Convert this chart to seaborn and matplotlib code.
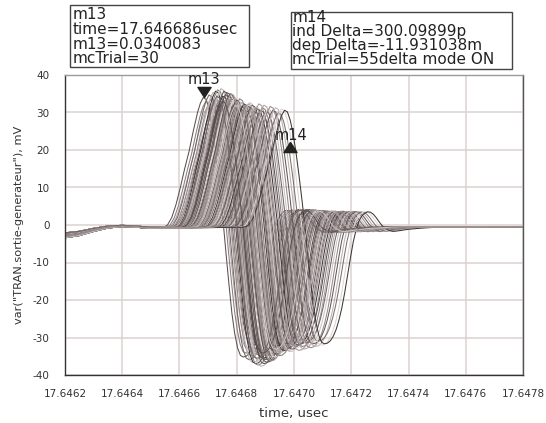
import numpy as np
import pandas as pd
import seaborn as sns
import matplotlib
matplotlib.use("Agg")
import matplotlib.pyplot as plt
import matplotlib.patches as mpatches
from matplotlib.ticker import FixedLocator, FuncFormatter

# ---------------- data ----------------
# representative pulse shape: time relative to its positive peak (ps) and value (mV)
pulse_dt_ps = [-150, -135, -125, -110, -95, -80, -65, -50, -35, -20, -10, 0,
               10, 20, 30, 40, 50, 60, 70, 80, 90, 100, 110, 120, 130, 140, 150,
               160, 170, 180, 190, 200, 210, 220, 230, 240, 250, 260, 270, 280,
               290, 300, 310, 320, 330, 340, 350, 365, 380, 400, 430, 480, 550]
pulse_mv = [-0.7, -0.5, 0.0, 2.0, 5.5, 10.0, 15.0, 19.5, 25.0, 30.0, 32.5, 34.0,
            33.5, 31.0, 27.0, 21.5, 15.0, 8.0, 0.5, -8.0, -16.0, -23.5, -29.0, -32.8,
            -34.8, -35.2, -35.0, -34.3, -33.0, -31.0, -28.2, -24.6, -20.1, -15.0,
            -9.8, -5.0, -1.4, 1.2, 2.7, 3.5, 3.9, 3.8, 3.2, 2.2, 1.0, -0.1, -0.9,
            -1.6, -1.9, -1.7, -1.3, -0.9, -0.6]

# common leading baseline (usec, mV) - a few distinct variants
lead_time = [17.64620, 17.64625, 17.64630, 17.64635, 17.64640, 17.64645, 17.64650]
lead_mv_sets = [
    [-3.4, -2.8, -1.7, -0.8, -0.4, -0.6, -0.9],
    [-2.9, -2.4, -1.4, -0.6, -0.3, -0.5, -0.8],
    [-2.5, -2.0, -1.1, -0.4, -0.2, -0.4, -0.7],
    [-2.1, -1.7, -0.9, -0.3, -0.1, -0.3, -0.6],
]
tail_time = 17.6478
tail_mv = -0.45

# Monte-Carlo trials: peak time (ps after 17.6466 usec) and amplitude factor
ref_time = 17.6466
peak_ps = [83, 92, 98, 103, 107, 110, 114, 117, 120, 123, 126, 128, 131, 133, 135,
           137, 139, 141, 143, 145, 147, 149, 151, 153, 155, 156, 158, 160, 162, 163,
           165, 167, 169, 170, 172, 174, 176, 177, 179, 181, 183, 185, 187, 189, 191,
           193, 195, 197, 199, 201, 203, 206, 208, 211, 213, 216, 219, 222, 225, 228,
           231, 234, 238, 241, 245, 249, 253, 257, 262, 267, 272, 277, 283, 289, 295,
           302, 309, 317, 326, 335, 345, 356, 367, 180, 150, 210, 240, 130, 195, 265]
peak_gain = [1.00, 0.97, 0.93, 1.02, 0.95, 0.99, 0.91, 1.04, 0.96, 0.93, 1.05, 0.98,
             0.94, 1.06, 0.97, 0.92, 1.03, 0.99, 0.95, 1.07, 0.96, 0.93, 1.01, 0.98,
             1.05, 0.94, 0.97, 1.02, 0.95, 0.99, 1.04, 0.92, 0.96, 1.00, 0.94, 0.98,
             1.03, 0.95, 0.91, 0.99, 0.96, 1.01, 0.93, 0.97, 0.94, 1.00, 0.92, 0.96,
             0.98, 0.93, 0.95, 0.90, 0.97, 0.94, 0.91, 0.96, 0.93, 0.89, 0.95, 0.92,
             0.90, 0.94, 0.91, 0.93, 0.96, 0.90, 0.94, 0.92, 0.89, 0.93, 0.91, 0.95,
             0.90, 0.92, 0.94, 0.89, 0.91, 0.93, 0.90, 0.92, 0.88, 0.91, 0.90, 1.03,
             0.97, 0.99, 0.95, 1.01, 0.94, 0.92]
trace_colors = ["#5a5050", "#8a7e7d", "#aea5a4", "#706564", "#cbc3c2", "#958988",
                "#625857", "#bbb2b1", "#7d7170", "#dcd5d4", "#3f3737", "#a09695"]

x_ticks = [17.6462, 17.6464, 17.6466, 17.6468, 17.6470, 17.6472, 17.6474, 17.6476, 17.6478]
y_ticks = [-40, -30, -20, -10, 0, 10, 20, 30, 40]

m13_time, m13_mv = 17.646686, 34.0083
m14_time, m14_mv = 17.646686 + 300.09899e-6, 34.0083 - 11.931038

box1_lines = ["m13", "time=17.646686usec", "m13=0.0340083", "mcTrial=30"]
box2_lines = ["m14", "ind Delta=300.09899p", "dep Delta=-11.931038m", "mcTrial=55delta mode ON"]

# ---------------- build long table ----------------
rows = []
for i, (p, g) in enumerate(zip(peak_ps, peak_gain)):
    lead_mv = lead_mv_sets[i % len(lead_mv_sets)]
    for t, v in zip(lead_time, lead_mv):
        rows.append((i, t, v))
    for dt, v in zip(pulse_dt_ps, pulse_mv):
        rows.append((i, ref_time + (p + dt) * 1e-6, v * g))
    rows.append((i, tail_time, tail_mv))
df = pd.DataFrame(rows, columns=["trial", "time", "mv"])
palette = {i: trace_colors[i % len(trace_colors)] for i in df["trial"].unique()}

# ---------------- plot ----------------
sns.set_style("white")
plt.rcParams["font.family"] = ["DejaVu Sans"]
plt.rcParams["axes.unicode_minus"] = False

W, H = 546, 423
fig = plt.figure(figsize=(W / 100, H / 100), dpi=100)
ax = fig.add_axes([65 / W, 1 - 375 / H, 458 / W, 300 / H])

ax.grid(True, color="#dbd2d0", linewidth=1.1, zorder=0)
ax.set_axisbelow(True)

sns.lineplot(data=df, x="time", y="mv", hue="trial", palette=palette,
             estimator=None, sort=False, legend=False, linewidth=0.75, ax=ax)

ax.set_xlim(x_ticks[0], x_ticks[-1])
ax.set_ylim(y_ticks[0], y_ticks[-1])
ax.xaxis.set_major_locator(FixedLocator(x_ticks))
ax.xaxis.set_major_formatter(FuncFormatter(lambda v, p: f"{v:.4f}"))
ax.xaxis.set_minor_locator(FixedLocator([a + 0.0001 for a in x_ticks[:-1]]))
ax.yaxis.set_major_locator(FixedLocator(y_ticks))
ax.yaxis.set_major_formatter(FuncFormatter(lambda v, p: f"{int(round(v))}"))
ax.yaxis.set_minor_locator(FixedLocator([v for v in range(-40, 41, 2) if v % 10]))

ax.tick_params(axis="both", which="major", labelsize=7.5, labelcolor="#333333",
               color="#333333", width=0.9)
ax.tick_params(axis="x", which="major", length=7, pad=3)
ax.tick_params(axis="y", which="major", length=8, pad=3)
ax.tick_params(axis="x", which="minor", length=4, color="#333333", width=0.8)
ax.tick_params(axis="y", which="minor", length=4.5, color="#333333", width=0.8)

for side, col in [("left", "#333333"), ("bottom", "#333333"), ("right", "#555555"), ("top", "#9a9a9a")]:
    ax.spines[side].set_visible(True)
    ax.spines[side].set_color(col)
    ax.spines[side].set_linewidth(1.0)

ax.set_xlabel("time, usec", fontsize=9.5, color="#333333", labelpad=6)
ax.set_ylabel('var("TRAN.sortie-generateur"), mV', fontsize=8.2, color="#333333")
ax.yaxis.set_label_coords(-(65 - 24) / 458, 0.5)

# markers with apex on the data point
down_tri = [(0, 0), (-0.65, 1), (0.65, 1), (0, 0)]
up_tri = [(0, 0), (-0.65, -1), (0.65, -1), (0, 0)]
ax.plot([m13_time], [m13_mv], marker=down_tri, markersize=14.5, color="#222222",
        linestyle="none", zorder=5, clip_on=False)
ax.plot([m14_time], [m14_mv], marker=up_tri, markersize=14.5, color="#222222",
        linestyle="none", zorder=5, clip_on=False)
ax.annotate("m13", (m13_time, m13_mv), xytext=(0, 9.5), textcoords="offset points",
            ha="center", va="baseline", fontsize=10.5, color="#222222", zorder=6,
            annotation_clip=False)
ax.annotate("m14", (m14_time, m14_mv), xytext=(1, 1.5), textcoords="offset points",
            ha="center", va="baseline", fontsize=10.5, color="#222222", zorder=6,
            annotation_clip=False)

# marker readout boxes
def readout(x0, y0, x1, y1, tx, baselines, lines):
    fig.patches.append(mpatches.Rectangle((x0 / W, 1 - y1 / H), (x1 - x0) / W, (y1 - y0) / H,
                                          transform=fig.transFigure, facecolor="white",
                                          edgecolor="#444444", linewidth=1.0, zorder=3))
    for b, s in zip(baselines, lines):
        fig.text(tx / W, 1 - b / H, s, fontsize=11.0, color="#222222",
                 va="baseline", ha="left", zorder=4)

readout(69.5, 5, 249, 67, 73, [19.3, 34, 48.7, 63], box1_lines)
readout(290.5, 12.5, 512, 69.5, 292.5, [21.7, 35.7, 50, 64.3], box2_lines)

fig.savefig("out.png", dpi=100)
